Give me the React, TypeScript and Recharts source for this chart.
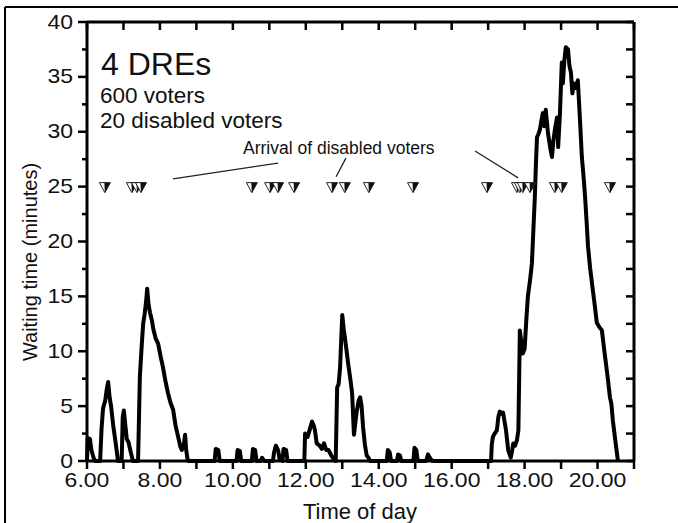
import React from "react";
import { ComposedChart, Line, Scatter, XAxis, YAxis, ReferenceLine } from "recharts";

// waiting time (minutes) against time of day (hours)
const waitTimes: [number, number][] = [
  [6.0, 0], [6.02, 2.1], [6.08, 2.0], [6.12, 1.0], [6.18, 0.3], [6.22, 0],
  [6.36, 0], [6.4, 3.0], [6.44, 4.8], [6.5, 5.5], [6.54, 6.5], [6.58, 7.2], [6.62, 5.8], [6.66, 5.0], [6.72, 3.2], [6.78, 1.8], [6.85, 0],
  [6.95, 0], [6.98, 4.0], [7.01, 4.6], [7.05, 3.3], [7.09, 2.0], [7.14, 1.7], [7.2, 0.8], [7.26, 0],
  [7.4, 0], [7.45, 7.7], [7.5, 10.5], [7.54, 12.5], [7.58, 13.4], [7.62, 14.5], [7.65, 15.7], [7.69, 14.2], [7.73, 13.5],
  [7.78, 12.8], [7.82, 12.0], [7.88, 11.2], [7.95, 10.7], [8.02, 9.5], [8.08, 8.6], [8.15, 7.3], [8.22, 6.2], [8.29, 5.3],
  [8.36, 4.7], [8.43, 3.2], [8.5, 2.2], [8.56, 1.3], [8.6, 1.0], [8.66, 1.6], [8.69, 2.4], [8.72, 1.0], [8.76, 0.1], [8.78, 0],
  [9.5, 0], [9.53, 1.1], [9.6, 1.0], [9.64, 0],
  [10.1, 0], [10.13, 1.0], [10.19, 0.9], [10.23, 0],
  [10.52, 0], [10.55, 1.1], [10.61, 1.0], [10.65, 0],
  [10.76, 0], [10.8, 0.3], [10.86, 0],
  [11.1, 0], [11.13, 0.8], [11.18, 1.4], [11.24, 1.0], [11.28, 0.2], [11.36, 0], [11.39, 1.1], [11.46, 1.0], [11.5, 0],
  [11.96, 0], [11.98, 2.5], [12.05, 2.2], [12.12, 3.0], [12.17, 3.6], [12.22, 3.2], [12.25, 2.8], [12.3, 1.6], [12.38, 1.4],
  [12.44, 1.1], [12.5, 1.6], [12.56, 1.0], [12.62, 1.0], [12.7, 0.5], [12.76, 0.2], [12.82, 0],
  [12.86, 6.7], [12.9, 7.0], [12.94, 8.5], [12.97, 11.0], [13.0, 13.3], [13.04, 12.0], [13.07, 11.3], [13.12, 10.0],
  [13.16, 8.9], [13.22, 7.5], [13.27, 6.2], [13.32, 2.4], [13.36, 3.5], [13.4, 4.6], [13.45, 5.5], [13.49, 5.8],
  [13.53, 5.0], [13.57, 3.1], [13.62, 1.5], [13.67, 0.5], [13.72, 0.3], [13.76, 0],
  [14.22, 0], [14.25, 1.0], [14.3, 0.8], [14.34, 0], [14.5, 0], [14.53, 0.6], [14.58, 0.5], [14.62, 0],
  [14.95, 0], [14.98, 1.2], [15.03, 1.0], [15.07, 0], [15.3, 0], [15.35, 0.6], [15.42, 0.2], [15.48, 0],
  [17.08, 0], [17.1, 1.5], [17.13, 2.2], [17.18, 2.5], [17.24, 2.8], [17.28, 4.0], [17.32, 4.5], [17.37, 4.3], [17.41, 4.4],
  [17.45, 3.6], [17.49, 2.8], [17.55, 1.0], [17.62, 0.3], [17.66, 1.0], [17.69, 1.6], [17.74, 1.4], [17.79, 1.9], [17.83, 2.8],
  [17.87, 11.9], [17.92, 10.6], [17.95, 9.8], [18.0, 10.2], [18.05, 13.0], [18.09, 15.0], [18.15, 16.5], [18.2, 18.0],
  [18.24, 21.0], [18.28, 24.0], [18.31, 27.0], [18.34, 29.5], [18.38, 29.8], [18.42, 30.2], [18.46, 31.0], [18.5, 31.7],
  [18.54, 30.5], [18.58, 32.0], [18.64, 29.9], [18.7, 28.6], [18.75, 27.7], [18.79, 29.2], [18.84, 30.4], [18.89, 31.3],
  [18.92, 28.6], [18.97, 31.7], [19.02, 36.3], [19.05, 34.4], [19.09, 36.5], [19.13, 37.7], [19.19, 37.5], [19.23, 36.0],
  [19.27, 35.4], [19.31, 33.5], [19.35, 34.4], [19.41, 34.0], [19.46, 34.7], [19.52, 31.0], [19.57, 27.7], [19.62, 25.8],
  [19.66, 24.0], [19.7, 21.8], [19.74, 19.5], [19.8, 17.5], [19.87, 15.6], [19.93, 14.0], [19.98, 12.6], [20.05, 12.2],
  [20.12, 11.9], [20.18, 10.2], [20.23, 8.9], [20.29, 7.3], [20.34, 5.8], [20.38, 5.2], [20.42, 3.7], [20.49, 1.8], [20.56, 0],
];

// arrival times of the 20 disabled voters (hours)
const disabledArrivals = [
  6.49, 7.23, 7.37, 7.48, 10.52, 11.02, 11.24, 11.68, 12.72, 13.07,
  13.73, 14.94, 16.97, 17.79, 17.87, 17.95, 18.15, 18.83, 19.02, 20.34,
];
const arrivalLevel = 25;

const hourTicks = [6, 7, 8, 9, 10, 11, 12, 13, 14, 15, 16, 17, 18, 19, 20, 21];
const labelledHours = [6, 8, 10, 12, 14, 16, 18, 20];
const minuteTicks = [0, 2.5, 5, 7.5, 10, 12.5, 15, 17.5, 20, 22.5, 25, 27.5, 30, 32.5, 35, 37.5, 40];

const lineData = waitTimes.map(([t, w]) => ({ t, w }));
const arrivalData = disabledArrivals.map((t) => ({ t, w: arrivalLevel }));

const FONT = '"Liberation Sans", Arial, Helvetica, sans-serif';
const INK = "#111";

function BottomTick({ x, y, payload }: any) {
  const v = payload.value;
  return (
    <g>
      <line x1={x} y1={y} x2={x} y2={y + 8} stroke="#000" strokeWidth={2.5} />
      {labelledHours.includes(v) && (
        <text transform={`translate(${x},${y + 25.5}) scale(1.15,1)`} textAnchor="middle" fontSize={20} fontFamily={FONT} fill={INK}>
          {v.toFixed(2)}
        </text>
      )}
    </g>
  );
}

function TopTick({ x, y }: any) {
  return <line x1={x} y1={y} x2={x} y2={y + 8} stroke="#000" strokeWidth={2.5} />;
}

function LeftTick({ x, y, payload }: any) {
  const v = payload.value;
  const major = v % 5 === 0;
  return (
    <g>
      <line x1={x - (major ? 9 : 5)} y1={y} x2={x} y2={y} stroke="#000" strokeWidth={2.5} />
      {major && (
        <text transform={`translate(${x - 14},${y + 6.5}) scale(1.15,1)`} textAnchor="end" fontSize={20} fontFamily={FONT} fill={INK}>
          {v}
        </text>
      )}
    </g>
  );
}

function RightTick({ x, y }: any) {
  return <line x1={x - 8} y1={y} x2={x} y2={y} stroke="#000" strokeWidth={2.5} />;
}

function ArrivalMark({ cx, cy }: any) {
  if (cx == null || cy == null) return null;
  return (
    <g>
      <polygon points={`${cx - 5.5},${cy - 4} ${cx + 5.5},${cy - 4} ${cx},${cy + 6}`} fill="#fff" stroke="#222" strokeWidth={1} />
      <polygon points={`${cx - 0.5},${cy - 4} ${cx + 5.5},${cy - 4} ${cx},${cy + 6}`} fill="#111" />
    </g>
  );
}

export default function App() {
  return (
    <div style={{ position: "absolute", left: 0, top: 0, width: 678, height: 523, background: "#fff" }}>
      <ComposedChart width={678} height={523} margin={{ top: 12, right: 34, bottom: 22, left: 27 }}>
        <XAxis
          xAxisId="b"
          dataKey="t"
          type="number"
          domain={[6, 21]}
          ticks={hourTicks}
          interval={0}
          height={40}
          tickSize={0}
          tickMargin={0}
          tickLine={false}
          axisLine={{ stroke: "#000", strokeWidth: 3 }}
          tick={BottomTick}
        />
        <XAxis
          xAxisId="t"
          orientation="top"
          dataKey="t"
          type="number"
          domain={[6, 21]}
          ticks={hourTicks}
          interval={0}
          height={10}
          tickSize={0}
          tickMargin={0}
          tickLine={false}
          axisLine={{ stroke: "#000", strokeWidth: 3 }}
          tick={TopTick}
        />
        <YAxis
          yAxisId="l"
          dataKey="w"
          type="number"
          domain={[0, 40]}
          ticks={minuteTicks}
          interval={0}
          width={60}
          tickSize={0}
          tickMargin={0}
          tickLine={false}
          axisLine={{ stroke: "#000", strokeWidth: 3 }}
          tick={LeftTick}
        />
        <YAxis
          yAxisId="r"
          orientation="right"
          dataKey="w"
          type="number"
          domain={[0, 40]}
          ticks={minuteTicks}
          interval={0}
          width={10}
          tickSize={0}
          tickMargin={0}
          tickLine={false}
          axisLine={{ stroke: "#000", strokeWidth: 3 }}
          tick={RightTick}
        />
        <ReferenceLine xAxisId="b" yAxisId="l" segment={[{ x: 8.36, y: 25.7 }, { x: 11.24, y: 27.15 }]} stroke="#222" strokeWidth={1.3} />
        <ReferenceLine xAxisId="b" yAxisId="l" segment={[{ x: 12.83, y: 25.9 }, { x: 13.1, y: 27.6 }]} stroke="#222" strokeWidth={1.3} />
        <ReferenceLine xAxisId="b" yAxisId="l" segment={[{ x: 16.64, y: 28.25 }, { x: 17.82, y: 25.8 }]} stroke="#222" strokeWidth={1.3} />
        <Line
          xAxisId="b"
          yAxisId="l"
          data={lineData}
          dataKey="w"
          type="linear"
          stroke="#000"
          strokeWidth={4}
          strokeLinejoin="round"
          dot={false}
          activeDot={false}
          isAnimationActive={false}
        />
        <Scatter xAxisId="t" yAxisId="r" data={arrivalData} dataKey="w" shape={ArrivalMark} isAnimationActive={false} />
      </ComposedChart>
      <svg width={678} height={523} style={{ position: "absolute", left: 0, top: 0, pointerEvents: "none" }}>
        <line x1={5} y1={7} x2={678} y2={7} stroke="#000" strokeWidth={2} />
        <line x1={5} y1={7} x2={5} y2={523} stroke="#000" strokeWidth={2} />
        <text x={101} y={75} fontSize={32} fontFamily={FONT} fill={INK}>4 DREs</text>
        <text x={100} y={103} fontSize={22.5} fontFamily={FONT} fill={INK}>600 voters</text>
        <text x={100} y={128} fontSize={22.5} fontFamily={FONT} fill={INK}>20 disabled voters</text>
        <text x={243} y={154} fontSize={17.5} fontFamily={FONT} fill={INK}>Arrival of disabled voters</text>
        <text x={360} y={519} textAnchor="middle" fontSize={22} fontFamily={FONT} fill={INK}>Time of day</text>
        <text transform="translate(37,262) rotate(-90)" textAnchor="middle" fontSize={20} fontFamily={FONT} fill={INK}>
          Waiting time (minutes)
        </text>
      </svg>
    </div>
  );
}
